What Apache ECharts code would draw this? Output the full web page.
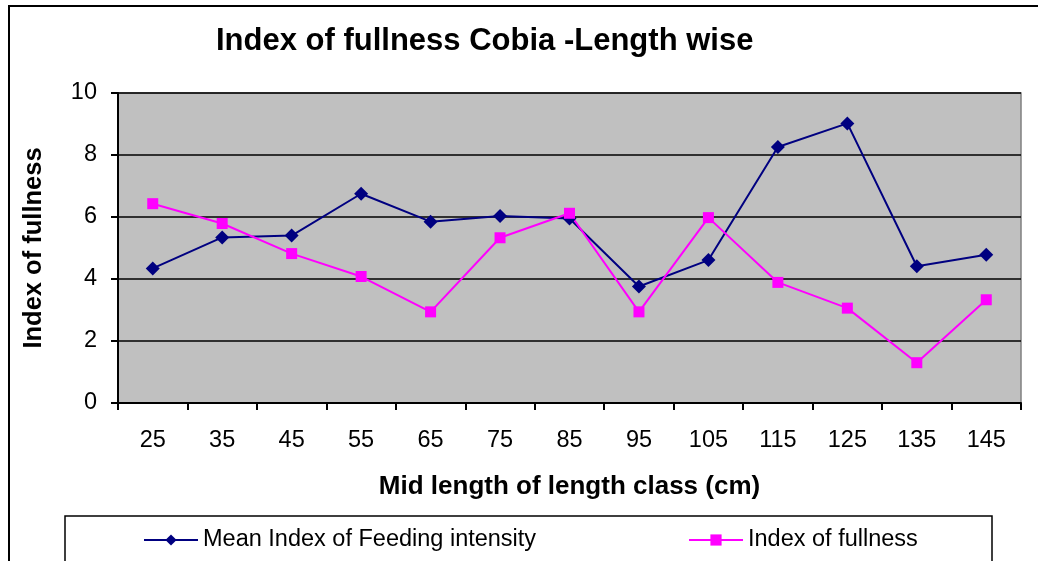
<!DOCTYPE html>
<html>
<head>
<meta charset="utf-8">
<script src="https://cdn.jsdelivr.net/npm/echarts@6/dist/echarts.min.js"></script>
<style>
  html, body { margin: 0; padding: 0; background: #fff; }
  #chart { width: 1038px; height: 561px; }
</style>
</head>
<body>
<div id="chart"></div>
<script>
// mid length of each length class (cm)
const lengthClasses = ['25', '35', '45', '55', '65', '75', '85', '95', '105', '115', '125', '135', '145'];
// values
const feedingIntensity = [4.34, 5.34, 5.40, 6.75, 5.85, 6.03, 5.95, 3.76, 4.61, 8.26, 9.02, 4.41, 4.78];
const fullnessIndex = [6.43, 5.79, 4.82, 4.08, 2.94, 5.33, 6.12, 2.94, 5.98, 3.89, 3.06, 1.30, 3.33];

const FONT = '"Liberation Sans", Arial, sans-serif';

const chart = echarts.init(document.getElementById('chart'));

chart.setOption({
  animation: false,
  backgroundColor: '#fff',
  textStyle: { fontFamily: FONT, color: '#000' },
  title: {
    text: 'Index of fullness Cobia -Length wise',
    left: 216,
    top: 26,
    padding: 0,
    textStyle: { fontFamily: FONT, fontSize: 31, fontWeight: 'bold', color: '#000' }
  },
  // two legends so each entry sits where it does in the picture
  legend: [
    {
      data: ['Mean Index of Feeding intensity'],
      left: 143, top: 528, padding: 0,
      itemWidth: 54, itemHeight: 14,
      textStyle: { fontFamily: FONT, fontSize: 23.5, color: '#000' }
    },
    {
      data: ['Index of fullness'],
      left: 688, top: 528, padding: 0,
      itemWidth: 54, itemHeight: 14,
      textStyle: { fontFamily: FONT, fontSize: 23.5, color: '#000' }
    }
  ],
  grid: {
    left: 118, top: 93, right: 17, bottom: 158,
    show: true,
    backgroundColor: '#C0C0C0',
    borderColor: '#808080',
    borderWidth: 1.5
  },
  xAxis: {
    type: 'category',
    data: lengthClasses,
    boundaryGap: true,
    name: 'Mid length of length class (cm)',
    nameLocation: 'middle',
    nameGap: 71,
    nameTextStyle: { fontFamily: FONT, fontSize: 26, fontWeight: 'bold', color: '#000' },
    axisLine: { lineStyle: { color: '#000', width: 2 } },
    axisTick: { show: true, length: 7, inside: false, lineStyle: { color: '#000', width: 2 } },
    axisLabel: { margin: 26, fontFamily: FONT, fontSize: 23.5, color: '#000' },
    splitLine: { show: false }
  },
  yAxis: {
    type: 'value',
    min: 0,
    max: 10,
    interval: 2,
    name: 'Index of fullness',
    nameLocation: 'middle',
    nameGap: 71,
    nameTextStyle: { fontFamily: FONT, fontSize: 25.5, fontWeight: 'bold', color: '#000' },
    axisLine: { show: true, lineStyle: { color: '#000', width: 2 } },
    axisTick: { show: true, length: 7, lineStyle: { color: '#000', width: 2 } },
    axisLabel: { margin: 21, fontFamily: FONT, fontSize: 23.5, color: '#000' },
    splitLine: { show: true, lineStyle: { color: '#000', width: 1.5 } }
  },
  graphic: [
    {
      // outer chart border, runs off the right and bottom of the picture
      type: 'rect',
      shape: { x: 9, y: 6, width: 1100, height: 700 },
      style: { fill: 'none', stroke: '#000', lineWidth: 2 },
      silent: true
    },
    {
      // legend frame
      type: 'rect',
      shape: { x: 65, y: 516, width: 927, height: 100 },
      style: { fill: 'none', stroke: '#000', lineWidth: 1.5 },
      silent: true
    }
  ],
  series: [
    {
      name: 'Mean Index of Feeding intensity',
      type: 'line',
      data: feedingIntensity,
      symbol: 'diamond',
      symbolSize: 14,
      showAllSymbol: true,
      itemStyle: { color: '#000080' },
      lineStyle: { color: '#000080', width: 2 }
    },
    {
      name: 'Index of fullness',
      type: 'line',
      data: fullnessIndex,
      symbol: 'rect',
      symbolSize: 11,
      showAllSymbol: true,
      itemStyle: { color: '#FF00FF' },
      lineStyle: { color: '#FF00FF', width: 2 }
    }
  ]
});
</script>
</body>
</html>
